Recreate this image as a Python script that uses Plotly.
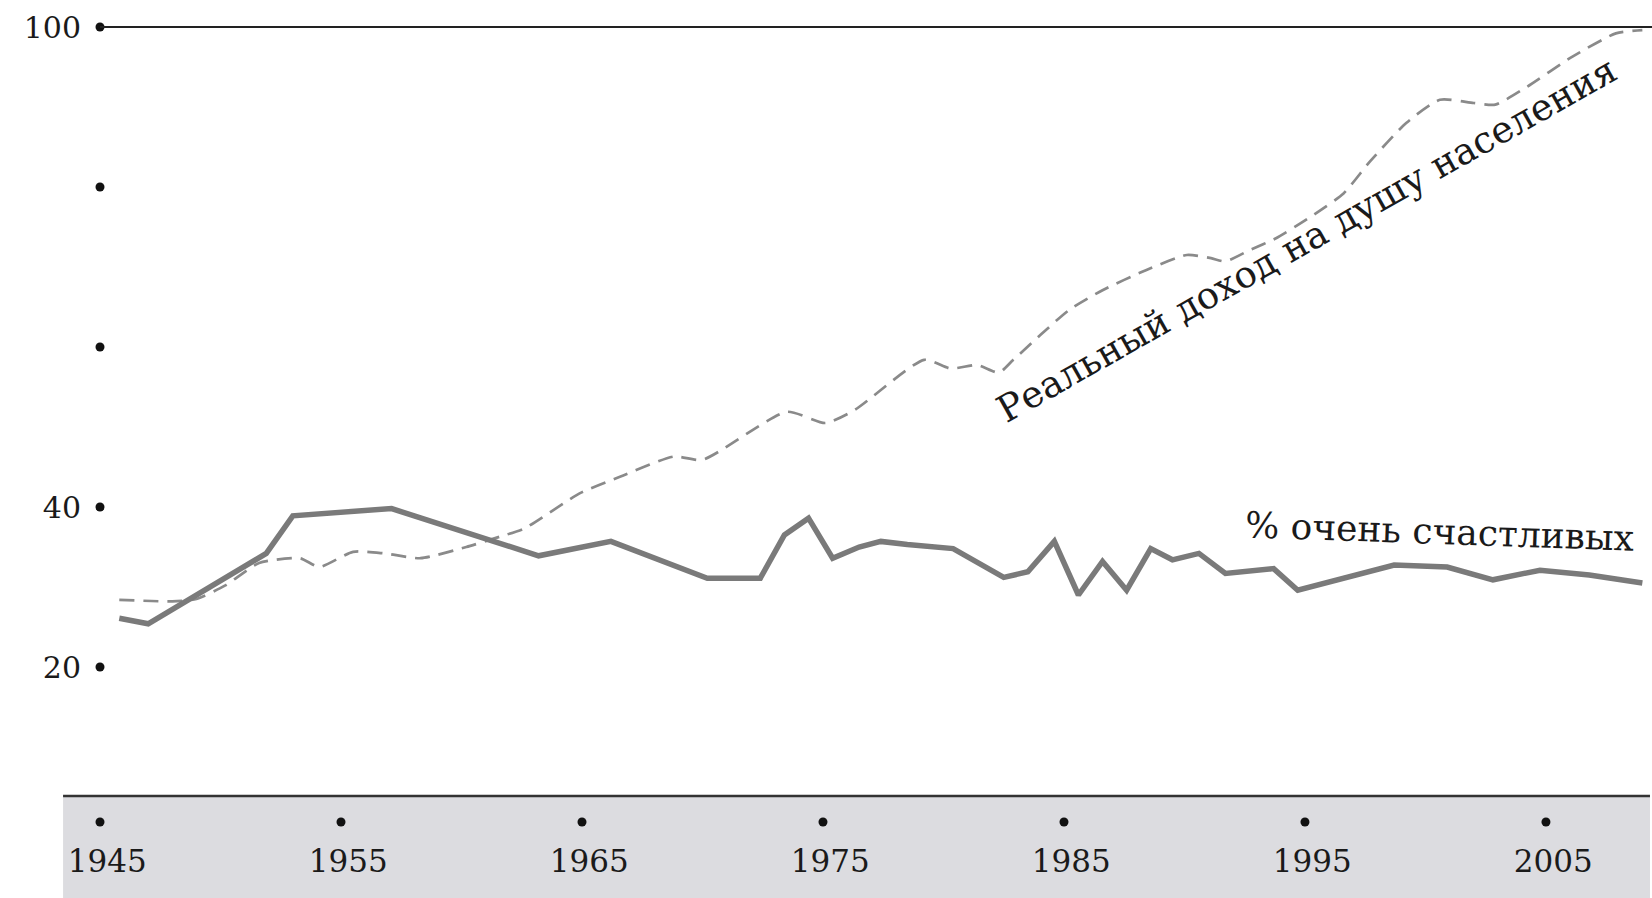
import plotly.graph_objects as go

# ---- data ----
happy_years = [1945.8, 1947.0, 1951.9, 1953.0, 1957.1, 1963.2, 1966.2, 1970.2, 1972.4,
               1973.4, 1974.4, 1975.4, 1976.5, 1977.4, 1978.5, 1980.4, 1982.5, 1983.5,
               1984.6, 1985.6, 1986.6, 1987.6, 1988.6, 1989.5, 1990.6, 1991.7, 1993.7,
               1994.7, 1998.7, 2000.9, 2002.8, 2004.75, 2006.8, 2009.0]
happy_pct = [26.1, 25.4, 34.2, 38.9, 39.8, 33.9, 35.7, 31.1, 31.1,
             36.5, 38.6, 33.6, 35.0, 35.7, 35.3, 34.8, 31.2, 31.9,
             35.7, 29.0, 33.2, 29.6, 34.8, 33.4, 34.2, 31.7, 32.3,
             29.6, 32.75, 32.5, 30.9, 32.1, 31.5, 30.5]

income_years = [1945.8, 1948.0, 1949.0, 1950.2, 1951.6, 1953.3, 1954.1, 1955.5, 1956.8,
                1958.3, 1960.2, 1961.6, 1962.6, 1964.9, 1966.6, 1968.8, 1970.0, 1973.5,
                1975.1, 1976.3, 1979.2, 1980.3, 1981.4, 1982.3, 1982.9, 1985.2, 1986.6,
                1988.4, 1990.1, 1991.1, 1991.7, 1992.7, 1993.8, 1995.2, 1996.6, 1997.7,
                1999.2, 2000.6, 2002.0, 2002.9, 2004.2, 2006.1, 2007.9, 2009.0]
income_idx = [28.4, 28.2, 28.5, 30.2, 33.0, 33.6, 32.5, 34.4, 34.2,
              33.6, 35.0, 36.3, 37.3, 41.7, 43.8, 46.3, 45.9, 51.9,
              50.5, 52.1, 58.4, 57.3, 57.75, 56.8, 58.4, 64.6, 67.1,
              69.6, 71.5, 71.1, 70.7, 72.1, 73.6, 76.2, 79.2, 83.2,
              88.0, 90.9, 90.5, 90.3, 92.5, 96.3, 99.2, 99.6]

x_tick_vals = [1945, 1955, 1965, 1975, 1985, 1995, 2005]
x_tick_text = ["1945", "1955", "1965", "1975", "1985", "1995", "2005"]
y_tick_vals = [20, 40, 60, 80, 100]
y_tick_text = ["20", "40", "", "", "100"]

label_income = "Реальный доход на душу населения"
label_happy = "% очень счастливых"

# ---- layout geometry ----
Y_MIN, Y_MAX = -8.875, 102.125
X_MIN, X_MAX = 1945, 2009.4
BAND_TOP = 3.875
XDOT_Y = 0.625
XLAB_Y = -4.6
XLAB_SHIFT = 0.3

FONT = "DejaVu Serif"

fig = go.Figure()

# income (dashed)
fig.add_trace(go.Scatter(
    x=income_years, y=income_idx, mode="lines",
    line=dict(color="#8a8a8a", width=2.7, dash="15px,9px", shape="spline", smoothing=0.6),
    hoverinfo="skip", showlegend=False))

# happiness (solid)
fig.add_trace(go.Scatter(
    x=happy_years, y=happy_pct, mode="lines",
    line=dict(color="#7a7a7a", width=5.5),
    hoverinfo="skip", showlegend=False))

# y tick dots
fig.add_trace(go.Scatter(
    x=[X_MIN] * len(y_tick_vals), y=y_tick_vals, mode="markers",
    marker=dict(color="#111111", size=9), cliponaxis=False,
    hoverinfo="skip", showlegend=False))

# x tick dots and labels (in the grey band)
fig.add_trace(go.Scatter(
    x=x_tick_vals, y=[XDOT_Y] * len(x_tick_vals), mode="markers",
    marker=dict(color="#111111", size=9), cliponaxis=False,
    hoverinfo="skip", showlegend=False))
fig.add_trace(go.Scatter(
    x=[v + XLAB_SHIFT for v in x_tick_vals], y=[XLAB_Y] * len(x_tick_vals), mode="text",
    text=x_tick_text, textposition="middle center",
    textfont=dict(family=FONT, size=31, color="#1a1a1a"), cliponaxis=False,
    hoverinfo="skip", showlegend=False))

shapes = [
    # grey band
    dict(type="rect", xref="paper", yref="y", x0=-0.0238, x1=0.9987,
         y0=Y_MIN - 2, y1=BAND_TOP, fillcolor="#dcdce0", line=dict(width=0), layer="below"),
    # bottom axis line
    dict(type="line", xref="paper", yref="y", x0=-0.0238, x1=0.9987,
         y0=BAND_TOP, y1=BAND_TOP, line=dict(color="#333333", width=2.5)),
    # top line at 100
    dict(type="line", xref="x", yref="y", x0=X_MIN, x1=X_MAX,
         y0=100, y1=100, line=dict(color="#222222", width=1.8)),
]

annotations = [
    dict(x=1995.1, y=73.4, xref="x", yref="y", text=label_income, showarrow=False,
         textangle=-29.4, font=dict(family=FONT, size=37, color="#1a1a1a")),
    dict(x=2000.6, y=37.0, xref="x", yref="y", text=label_happy, showarrow=False,
         textangle=2, font=dict(family=FONT, size=36, color="#1a1a1a")),
]

fig.update_layout(
    width=1652, height=898,
    margin=dict(l=100, r=0, t=10, b=0),
    paper_bgcolor="white", plot_bgcolor="rgba(0,0,0,0)",
    shapes=shapes, annotations=annotations,
    xaxis=dict(range=[X_MIN, X_MAX], showgrid=False, zeroline=False, showline=False,
               showticklabels=False, ticks=""),
    yaxis=dict(range=[Y_MIN, Y_MAX], showgrid=False, zeroline=False, showline=False,
               tickvals=y_tick_vals, ticktext=y_tick_text, ticks="",
               ticklabelstandoff=18,
               tickfont=dict(family=FONT, size=30, color="#1a1a1a")),
)

fig.write_html("out.html", config={"displayModeBar": False},
               post_script="document.body.style.margin='0px';")
